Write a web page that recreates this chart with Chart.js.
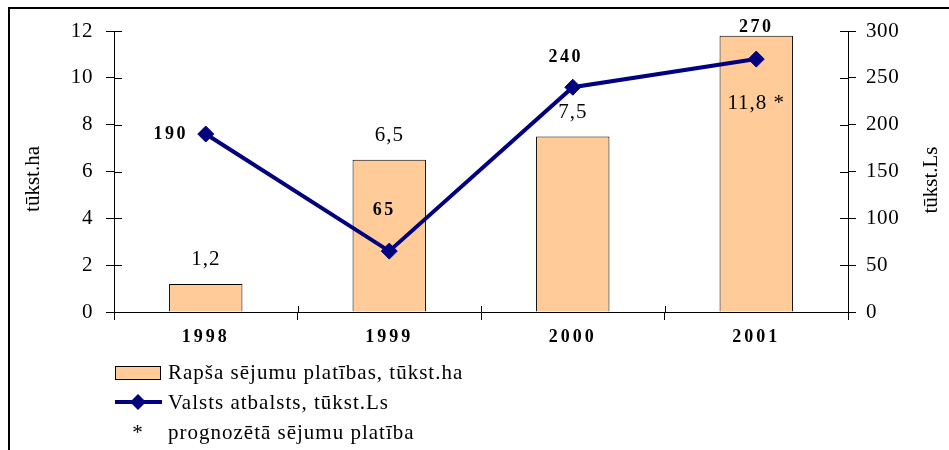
<!DOCTYPE html>
<html>
<head>
<meta charset="utf-8">
<script src="https://cdn.jsdelivr.net/npm/chart.js@4/dist/chart.umd.min.js"></script>
<style>
  body { margin: 0; background: #fff; }
  canvas { display: block; }
</style>
</head>
<body>
<canvas id="rapsisChart" width="949" height="450"></canvas>
<script>
// Dati no attēla
const gadi = ["1998", "1999", "2000", "2001"];           // kategorijas
const platibas = [1.2, 6.5, 7.5, 11.8];                  // Rapša sējumu platības, tūkst.ha
const atbalsts = [190, 65, 240, 270];                    // Valsts atbalsts, tūkst.Ls
const prognoze = [false, false, false, true];            // prognozētā platība (*)
const kreisaAsTicks = [0, 2, 4, 6, 8, 10, 12];
const labaAsTicks = [0, 50, 100, 150, 200, 250, 300];

const FONTS = '"Liberation Serif", "DejaVu Serif", serif';
const BAR_COLOR = '#FFCC99';
const LINE_COLOR = '#000080';

// Kur likt līnijas vērtību uzrakstus attiecībā pret punktu
const lineLabelPos = [
    { dx: -35, dy: 0 },
    { dx: -5, dy: -41 },
    { dx: -7, dy: -30 },
    { dx: 0, dy: -32 }
];

// Rāmis, iekšējās iedaļas, uzraksti un leģenda
const zimejumi = {
    id: 'zimejumi',
    beforeDraw(chart) {
        // nedaudz izretināts teksts kā oriģinālā
        chart.ctx.letterSpacing = '0.6px';
        const xs = chart.scales.x;
        if (!xs._retinats) {
            const orig = xs.drawLabels;
            xs.drawLabels = function (area) {
                this.ctx.save();
                this.ctx.letterSpacing = '3px';
                orig.call(this, area);
                this.ctx.restore();
            };
            xs._retinats = true;
        }
    },
    afterDraw(chart) {
        const ctx = chart.ctx;
        const x = chart.scales.x, y = chart.scales.y, y1 = chart.scales.y1;
        ctx.save();
        ctx.letterSpacing = '0px';

        // rāmis (augša un kreisā mala)
        ctx.strokeStyle = '#000';
        ctx.lineWidth = 2;
        ctx.beginPath();
        ctx.moveTo(9, 450);
        ctx.lineTo(9, 8);
        ctx.lineTo(949, 8);
        ctx.stroke();

        // iedaļas uz iekšu
        ctx.lineWidth = 1;
        ctx.beginPath();
        for (const t of kreisaAsTicks) {
            const py = Math.round(y.getPixelForValue(t)) + 0.5;
            ctx.moveTo(y.right, py); ctx.lineTo(y.right + 8, py);
        }
        for (const t of labaAsTicks) {
            const py = Math.round(y1.getPixelForValue(t)) + 0.5;
            ctx.moveTo(y1.left - 8, py); ctx.lineTo(y1.left, py);
        }
        const step = (x.right - x.left) / gadi.length;
        for (let i = 0; i <= gadi.length; i++) {
            const px = Math.round(x.left + i * step) + 0.5;
            ctx.moveTo(px, x.top - 6); ctx.lineTo(px, x.top);
        }
        ctx.stroke();

        // asu nosaukumi
        ctx.fillStyle = '#000';
        ctx.font = '21px ' + FONTS;
        ctx.textAlign = 'center';
        ctx.textBaseline = 'middle';
        ctx.save();
        ctx.translate(33, 179);
        ctx.rotate(-Math.PI / 2);
        ctx.fillText('tūkst.ha', 0, 0);
        ctx.restore();
        ctx.save();
        ctx.translate(931, 180);
        ctx.rotate(-Math.PI / 2);
        ctx.fillText('tūkst.Ls', 0, 0);
        ctx.restore();

        // stabiņu vērtības
        ctx.letterSpacing = '1px';
        const bars = chart.getDatasetMeta(0).data;
        bars.forEach((bar, i) => {
            const txt = String(platibas[i]).replace('.', ',') + (prognoze[i] ? ' *' : '');
            const ty = prognoze[i] ? bar.y + 68 : bar.y - 24;
            ctx.fillText(txt, bar.x, ty);
        });

        // līnijas vērtības
        ctx.font = 'bold 18px ' + FONTS;
        ctx.letterSpacing = '2.5px';
        const pts = chart.getDatasetMeta(1).data;
        pts.forEach((p, i) => {
            ctx.fillText(String(atbalsts[i]), p.x + lineLabelPos[i].dx, p.y + lineLabelPos[i].dy);
        });

        // leģenda
        ctx.font = '21px ' + FONTS;
        ctx.letterSpacing = '1px';
        ctx.textAlign = 'left';
        ctx.fillStyle = BAR_COLOR;
        ctx.fillRect(115.5, 366.5, 45, 13);
        ctx.strokeStyle = '#000';
        ctx.lineWidth = 1;
        ctx.strokeRect(115.5, 366.5, 45, 13);
        ctx.fillStyle = '#000';
        ctx.fillText(chart.data.datasets[0].label, 168, 373);

        ctx.strokeStyle = LINE_COLOR;
        ctx.lineWidth = 4;
        ctx.beginPath();
        ctx.moveTo(115, 402); ctx.lineTo(162, 402);
        ctx.stroke();
        ctx.fillStyle = LINE_COLOR;
        ctx.beginPath();
        ctx.moveTo(138, 394); ctx.lineTo(146, 402); ctx.lineTo(138, 410); ctx.lineTo(130, 402);
        ctx.closePath();
        ctx.fill();
        ctx.fillStyle = '#000';
        ctx.fillText(chart.data.datasets[1].label, 168, 403);

        ctx.textAlign = 'center';
        ctx.fillText('*', 138, 433);
        ctx.textAlign = 'left';
        ctx.fillText('prognozētā sējumu platība', 168, 433);

        ctx.restore();
    }
};

const ctx = document.getElementById('rapsisChart');

const rapsisChart = new Chart(ctx, {
    type: 'bar',
    data: {
        labels: gadi,
        datasets: [{
            type: 'bar',
            label: 'Rapša sējumu platības, tūkst.ha',
            data: platibas,
            yAxisID: 'y',
            backgroundColor: BAR_COLOR,
            borderColor: '#000',
            borderWidth: 1,
            categoryPercentage: 1,
            barPercentage: 0.4,
            order: 2
        }, {
            type: 'line',
            label: 'Valsts atbalsts, tūkst.Ls',
            data: atbalsts,
            yAxisID: 'y1',
            borderColor: LINE_COLOR,
            backgroundColor: LINE_COLOR,
            borderWidth: 4,
            pointStyle: 'rectRot',
            pointRadius: 8,
            pointBorderWidth: 1,
            tension: 0,
            order: 1
        }]
    },
    options: {
        responsive: false,
        animation: false,
        devicePixelRatio: 1,
        layout: { padding: { top: 31, left: 0, right: 0, bottom: 0 } },
        plugins: {
            legend: { display: false },
            tooltip: { enabled: false }
        },
        scales: {
            x: {
                offset: true,
                grid: { offset: true, drawOnChartArea: false, tickLength: 8, color: '#000' },
                border: { color: '#000' },
                ticks: { color: '#000', padding: 7, font: { family: FONTS, size: 18, weight: 'bold' } },
                afterFit: s => { s.height = 138; }
            },
            y: {
                position: 'left',
                min: 0,
                max: 12,
                grid: { drawOnChartArea: false, tickLength: 8, color: '#000' },
                border: { color: '#000' },
                ticks: { stepSize: 2, color: '#000', padding: 13, font: { family: FONTS, size: 21 } },
                afterFit: s => { s.width = 114; }
            },
            y1: {
                position: 'right',
                min: 0,
                max: 300,
                grid: { drawOnChartArea: false, tickLength: 8, color: '#000' },
                border: { color: '#000' },
                ticks: { stepSize: 50, color: '#000', padding: 10, font: { family: FONTS, size: 21 } },
                afterFit: s => { s.width = 101; }
            }
        }
    },
    plugins: [zimejumi]
});
</script>
</body>
</html>
